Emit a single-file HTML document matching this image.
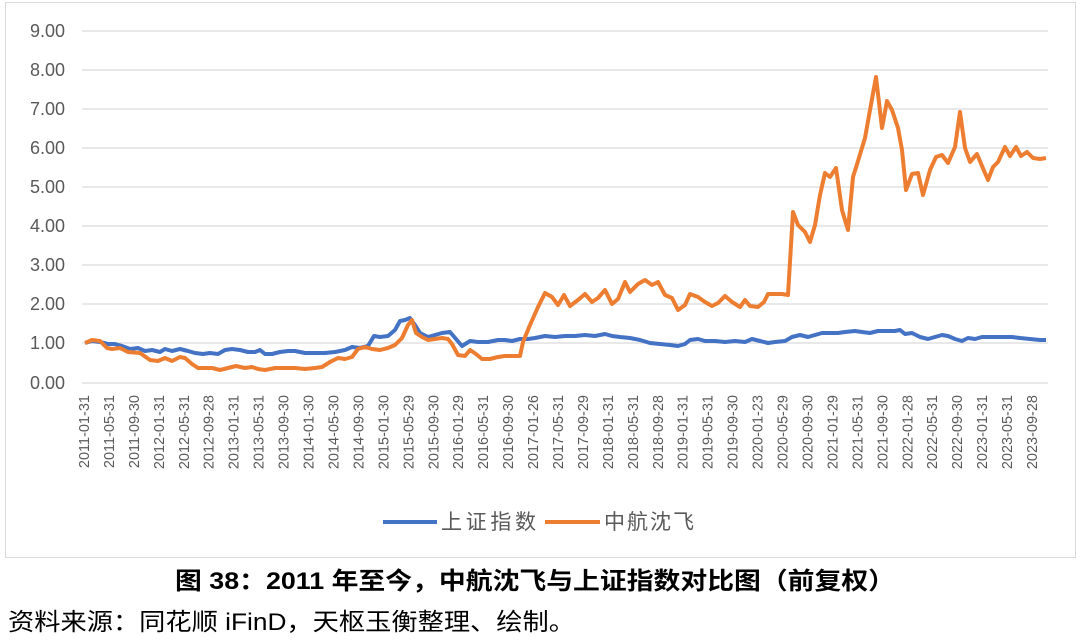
<!DOCTYPE html>
<html><head><meta charset="utf-8"><style>
body{margin:0;width:1080px;height:643px;background:#fff;overflow:hidden;font-family:"Liberation Sans","Noto Sans CJK SC",sans-serif}
</style></head><body>
<svg width="1080" height="643" viewBox="0 0 1080 643" style="position:absolute;left:0;top:0">
<rect x="5.5" y="2.5" width="1070" height="555" fill="#fff" stroke="#d9d9d9" stroke-width="1"/>
<g stroke="#d9d9d9" stroke-width="1.3">
<line x1="82" x2="1048" y1="31" y2="31"/><line x1="82" x2="1048" y1="70" y2="70"/>
<line x1="82" x2="1048" y1="109" y2="109"/><line x1="82" x2="1048" y1="148" y2="148"/>
<line x1="82" x2="1048" y1="187" y2="187"/><line x1="82" x2="1048" y1="226" y2="226"/>
<line x1="82" x2="1048" y1="265" y2="265"/><line x1="82" x2="1048" y1="304" y2="304"/>
<line x1="82" x2="1048" y1="343" y2="343"/><line x1="82" x2="1048" y1="383" y2="383"/>
</g>
<g font-size="18" fill="#595959" text-anchor="end" font-family="Liberation Sans,sans-serif">
<text x="65" y="37">9.00</text><text x="65" y="76">8.00</text><text x="65" y="115">7.00</text>
<text x="65" y="154">6.00</text><text x="65" y="193">5.00</text><text x="65" y="232">4.00</text>
<text x="65" y="271">3.00</text><text x="65" y="310">2.00</text><text x="65" y="349">1.00</text>
<text x="65" y="389">0.00</text>
</g>
<g id="xl" font-size="14.5" fill="#595959" text-anchor="end" font-family="Liberation Sans,sans-serif"></g>
<polyline fill="none" stroke="#4472c4" stroke-width="4" stroke-linejoin="round" points="85,343 92,341 100,342 108,344 115,344 122,346 130,349 138,348 145,351 152,350 160,352 165,349 172,351 180,349 188,351 195,353 203,354 210,353 218,354 225,350 232,349 240,350 248,352 255,352 260,350 265,354 272,354 280,352 288,351 295,351 305,353 315,353 325,353 335,352 345,350 352,347 360,348 368,346 374,336 380,337 388,336 395,330 400,321 405,320 410,318 415,325 420,333 428,337 435,335 442,333 450,332 456,339 462,346 470,341 478,342 488,342 498,340 505,340 512,341 520,339 528,339 535,338 545,336 555,337 565,336 575,336 585,335 595,336 605,334 612,336 620,337 630,338 640,340 650,343 660,344 670,345 678,346 685,344 690,340 698,339 705,341 715,341 725,342 735,341 745,342 752,339 760,341 768,343 775,342 785,341 792,337 800,335 808,337 815,335 822,333 830,333 838,333 845,332 855,331 862,332 870,333 878,331 885,331 895,331 900,330 905,334 912,333 920,337 928,339 935,337 942,335 948,336 955,339 962,341 968,338 975,339 982,337 990,337 998,337 1005,337 1012,337 1020,338 1030,339 1040,340 1046,340"/>
<polyline fill="none" stroke="#ed7d31" stroke-width="4" stroke-linejoin="round" points="85,343 92,340 100,341 107,348 112,349 120,348 128,352 140,353 150,360 158,361 165,358 172,361 180,357 185,358 192,364 198,368 205,368 212,368 220,370 228,368 236,366 245,368 252,367 258,369 265,370 275,368 285,368 295,368 305,369 315,368 322,367 330,362 338,358 345,359 352,357 358,349 365,347 372,349 380,350 388,348 395,345 402,338 408,325 412,320 416,333 422,337 428,340 435,339 442,338 448,339 452,344 458,355 465,356 470,350 476,354 482,359 490,359 498,357 505,356 512,356 520,356 523,342 530,325 538,307 545,293 552,297 558,305 564,295 570,306 578,300 585,294 592,302 598,298 605,290 612,304 618,299 625,282 630,292 638,284 645,280 652,285 658,282 665,295 672,298 678,310 685,305 690,294 698,297 705,302 712,306 718,303 725,296 732,302 740,307 745,300 750,306 758,307 764,302 768,294 778,294 782,294 788,295 793,212 798,225 805,232 810,242 815,225 820,195 825,173 830,177 836,168 842,210 848,230 853,177 858,161 865,138 870,110 876,77 882,128 887,101 892,110 898,128 902,150 906,190 912,174 918,173 923,195 930,170 936,157 942,155 948,163 955,147 960,112 965,148 970,162 977,154 982,166 988,180 993,167 998,162 1005,147 1010,156 1016,147 1021,156 1027,152 1033,158 1040,159 1046,158"/>
<line x1="383" x2="437" y1="522" y2="522" stroke="#4472c4" stroke-width="4"/>
<text x="441" y="529" font-size="21" fill="#595959" textLength="95">上证指数</text>
<line x1="545" x2="600" y1="522" y2="522" stroke="#ed7d31" stroke-width="4"/>
<text x="604" y="529" font-size="21" fill="#595959" textLength="90">中航沈飞</text>
<text x="175" y="589" font-size="24" font-weight="bold" fill="#000" textLength="720" lengthAdjust="spacingAndGlyphs">图  38：2011 年至今，中航沈飞与上证指数对比图（前复权）</text>
<text x="8" y="630" font-size="24" fill="#000" textLength="567" lengthAdjust="spacingAndGlyphs">资料来源：同花顺 iFinD，天枢玉衡整理、绘制。</text>
</svg>
<script>
var L=["2011-01-31","2011-05-31","2011-09-30","2012-01-31","2012-05-31","2012-09-28","2013-01-31","2013-05-31","2013-09-30","2014-01-30","2014-05-30","2014-09-30","2015-01-30","2015-05-29","2015-09-30","2016-01-29","2016-05-31","2016-09-30","2017-01-26","2017-05-31","2017-09-29","2018-01-31","2018-05-31","2018-09-28","2019-01-31","2019-05-31","2019-09-30","2020-01-23","2020-05-29","2020-09-30","2021-01-29","2021-05-31","2021-09-30","2022-01-28","2022-05-31","2022-09-30","2023-01-31","2023-05-31","2023-09-28"];
var g=document.getElementById("xl"),h="";
for(var i=0;i<L.length;i++){var x=84+i*(1032-84)/38+5;h+='<text transform="translate('+x.toFixed(1)+',395) rotate(-90)">'+L[i]+'</text>';}
g.innerHTML=h;
</script>
</body></html>
